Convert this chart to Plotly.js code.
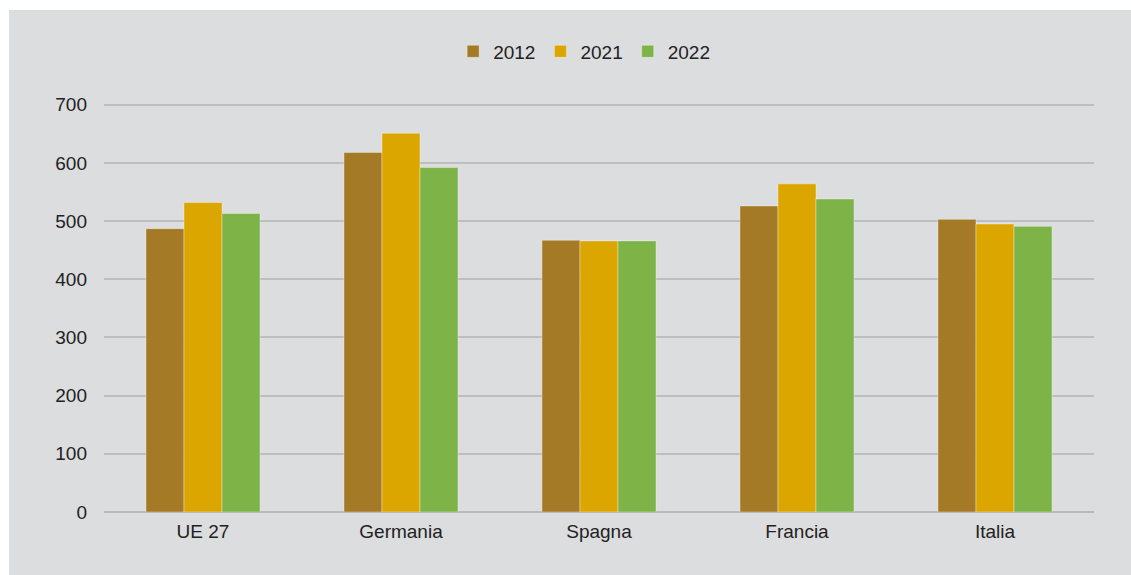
<!DOCTYPE html>
<html>
<head>
<meta charset="utf-8">
<script src="https://cdn.plot.ly/plotly-3.0.1.min.js"></script>
<style>
html,body{margin:0;padding:0;background:#ffffff;}
#chart{position:absolute;left:9px;top:10px;width:1122px;height:565px;}
</style>
</head>
<body>
<div id="chart"></div>
<script>
const categories = ["UE 27", "Germania", "Spagna", "Francia", "Italia"];
const years = ["2012", "2021", "2022"];
const values2012 = [487, 618, 467, 526, 503];
const values2021 = [532, 651, 466, 564, 495];
const values2022 = [513, 592, 466, 538, 491];
const colors = ["#A57A26", "#DBA600", "#7DB347"];
const tickVals = [0, 100, 200, 300, 400, 500, 600, 700];

const series = [values2012, values2021, values2022];
const traces = series.map((v, i) => ({
  type: "bar",
  name: years[i],
  x: categories,
  y: v,
  marker: {color: colors[i], line: {color: "rgba(255,255,255,0.35)", width: 1}},
  hoverinfo: "x+y+name"
}));

const layout = {
  width: 1122,
  height: 565,
  paper_bgcolor: "#DCDDDF",
  plot_bgcolor: "#DCDDDF",
  margin: {l: 95, r: 37, t: 93.25, b: 63},
  barmode: "group",
  bargap: 0.424,
  bargroupgap: 0,
  font: {family: "Liberation Sans, Arial, sans-serif", size: 19, color: "#222222"},
  showlegend: true,
  legend: {
    orientation: "h",
    x: 0.485, xanchor: "center",
    y: 1.126, yanchor: "middle",
    font: {size: 19, color: "#222222"},
    itemwidth: 30,
    traceorder: "normal",
    bgcolor: "rgba(0,0,0,0)"
  },
  xaxis: {
    type: "category",
    showgrid: false,
    showline: false,
    zeroline: false,
    ticks: "",
    tickfont: {size: 19, color: "#222222"},
    ticklabelstandoff: 6
  },
  yaxis: {
    range: [0, 703],
    tickvals: tickVals,
    ticktext: tickVals.map(String),
    showgrid: true,
    gridcolor: "#BDBEC0",
    gridwidth: 2,
    zeroline: true,
    zerolinecolor: "#B8B9BB",
    zerolinewidth: 2.5,
    showline: false,
    ticks: "",
    tickfont: {size: 19, color: "#222222"},
    ticklabelstandoff: 16
  }
};

Plotly.newPlot("chart", traces, layout, {displayModeBar: false, staticPlot: true});
</script>
</body>
</html>
